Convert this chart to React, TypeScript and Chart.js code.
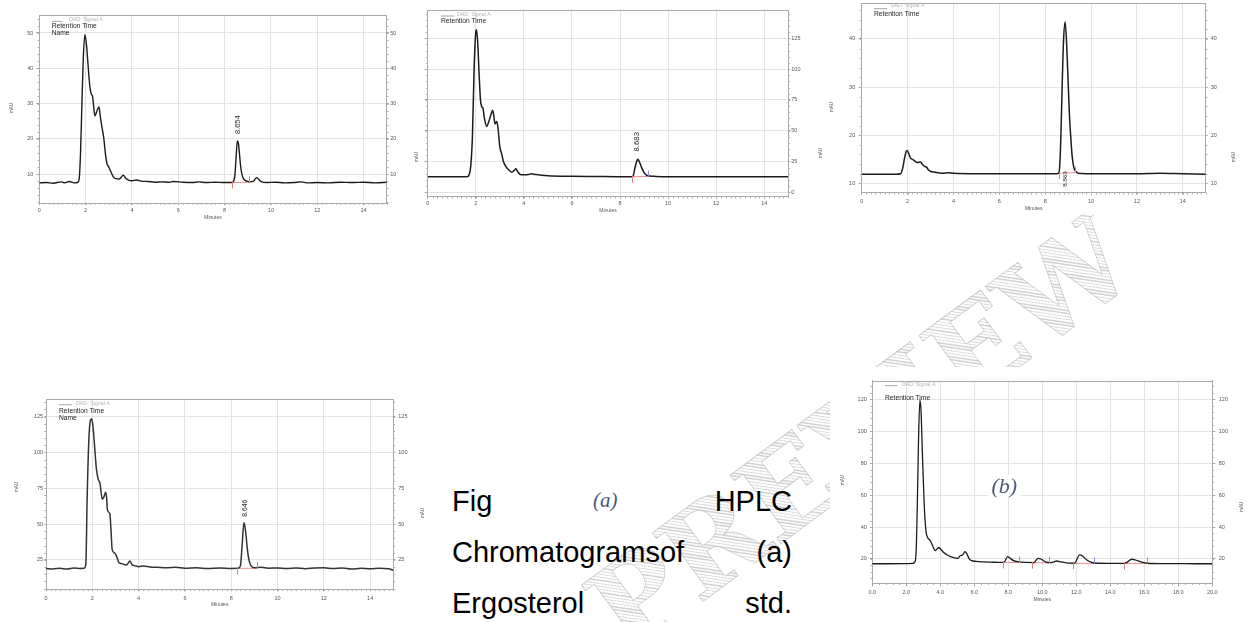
import React, { useEffect, useRef } from 'react';
import { Chart, registerables } from 'chart.js';

Chart.register(...registerables);

// ---------------- data ----------------
const X_TICKS_15 = [0, 2, 4, 6, 8, 10, 12, 14];
const X_TICKS_20 = [0, 2, 4, 6, 8, 10, 12, 14, 16, 18, 20];

// (a) top-left chromatogram
const A1_TIME = [0, 0.3, 0.6, 0.95, 1.1, 1.3, 1.5, 1.65, 1.72, 1.78,
  1.84, 1.9, 1.97, 2.04, 2.11, 2.18, 2.24, 2.3, 2.35, 2.4,
  2.47, 2.53, 2.58, 2.63, 2.7, 2.78, 2.86, 2.92, 3.0, 3.08,
  3.19, 3.3, 3.45, 3.55, 3.63, 3.72, 3.85, 4.0, 4.2, 4.4,
  4.7, 5.0, 5.3, 5.6, 5.8, 6.2, 6.6, 6.9, 7.2, 7.6,
  8.0, 8.3, 8.4, 8.45, 8.5, 8.55, 8.6, 8.65, 8.7, 8.78,
  8.85, 8.95, 9.1, 9.25, 9.33, 9.4, 9.5, 9.6, 9.8, 10.2,
  10.6, 11.0, 11.3, 11.6, 12.0, 12.5, 13.0, 13.5, 14.0, 14.5,
  15.0];
const A1_SIGNAL = [7.5, 7.6, 7.4, 7.8, 7.5, 7.9, 7.5, 7.6, 8.6, 16,
  30, 43, 49.5, 46.5, 40.5, 35, 32.8, 32, 29, 26.5,
  27.5, 28.6, 29, 26.5, 23.5, 20.4, 15.5, 13, 12, 10.8,
  9.3, 8.7, 8.6, 9.2, 9.7, 8.9, 8.3, 8.1, 8.3, 8.0,
  7.9, 7.7, 7.8, 7.7, 7.9, 7.7, 7.6, 7.8, 7.6, 7.7,
  7.6, 7.6, 8.1, 10, 15, 19.4, 18.6, 15.2, 11.8, 9.2,
  8.4, 8.0, 7.8, 8.0, 8.7, 9.0, 8.3, 7.8, 7.6, 7.7,
  7.5, 7.6, 7.8, 7.5, 7.6, 7.5, 7.7, 7.6, 7.7, 7.5,
  7.7];
const A1_Y_TICKS = [10, 20, 30, 40, 50];
const A1_INT_START = [8.33];
const A1_INT_END = [9.07];
const A1_INT_LEVEL_START = [7.6];
const A1_INT_LEVEL_END = [7.7];
const A1_PEAK_TIME = [8.56];
const A1_PEAK_LABEL_AT = [24];
const A1_PEAK_LABEL = ['8.654'];

// top-middle chromatogram
const A2_TIME = [0, 0.8, 1.5, 1.65, 1.72, 1.79, 1.86, 1.93, 2.0, 2.03,
  2.08, 2.14, 2.2, 2.25, 2.3, 2.36, 2.45, 2.55, 2.63, 2.7,
  2.75, 2.8, 2.87, 2.92, 3.0, 3.08, 3.15, 3.25, 3.35, 3.5,
  3.6, 3.67, 3.75, 3.85, 4.0, 4.2, 4.3, 4.5, 5.0, 6.0,
  7.0, 8.0, 8.5, 8.56, 8.63, 8.7, 8.74, 8.8, 8.9, 9.0,
  9.1, 9.25, 9.5, 10.0, 11.0, 12.0, 13.0, 14.0, 15.0];
const A2_SIGNAL = [12.5, 12.5, 12.5, 12.7, 14, 21, 45, 100, 130, 132,
  122, 95, 74, 69.5, 68, 60, 53.5, 58, 63, 66.5,
  62, 55.5, 57.5, 53, 37, 31, 25, 21, 18.5, 16.3,
  17.8, 19, 16.5, 14.5, 14.2, 14.5, 15, 14.4, 13.5, 13,
  12.8, 12.6, 12.6, 14, 20.5, 25.5, 26.8, 25, 20, 16,
  14, 13.2, 12.9, 12.6, 12.5, 12.5, 12.5, 12.5, 12.5];
const A2_Y_TICKS = [0, 25, 50, 75, 100, 125];
const A2_INT_START = [8.49];
const A2_INT_END = [9.18];
const A2_INT_LEVEL_START = [12.6];
const A2_INT_LEVEL_END = [12.8];
const A2_PEAK_TIME = [8.72];
const A2_PEAK_LABEL_AT = [41];
const A2_PEAK_LABEL = ['8.683'];

// top-right chromatogram
const A3_TIME = [0, 0.8, 1.5, 1.7, 1.78, 1.86, 1.93, 1.98, 2.05, 2.12,
  2.2, 2.3, 2.38, 2.45, 2.55, 2.65, 2.75, 2.82, 2.9, 3.0,
  3.2, 3.5, 3.8, 4.0, 5.0, 6.0, 7.0, 8.0, 8.5, 8.6,
  8.65, 8.69, 8.74, 8.8, 8.87, 8.94, 9.01, 9.06, 9.11, 9.18,
  9.25, 9.33, 9.45, 10.0, 11.0, 12.0, 13.0, 14.0, 15.0];
const A3_SIGNAL = [11.9, 11.9, 11.9, 12.0, 13, 15, 16.5, 16.8, 16.2, 15.3,
  15, 14.7, 14.4, 14.3, 14.5, 13.9, 13.5, 13.4, 12.8, 12.5,
  12.3, 12.1, 12.2, 12.1, 12.0, 12.0, 12.0, 12.0, 12.0, 12.2,
  15, 20.5, 30, 39.5, 43.5, 38.5, 30, 24, 20, 15.5,
  13.3, 12.5, 12.1, 12.0, 12.0, 12.0, 12.1, 12.0, 11.9];
const A3_Y_TICKS = [10, 20, 30, 40];
const A3_INT_START = [8.59];
const A3_INT_END = [9.31];
const A3_INT_LEVEL_START = [12.1];
const A3_INT_LEVEL_END = [12.2];
const A3_PEAK_TIME = [8.87];
const A3_PEAK_LABEL_AT = [10.9];
const A3_PEAK_LABEL = ['8.863'];

// bottom-left chromatogram
const A4_TIME = [0, 0.3, 0.6, 0.9, 1.2, 1.5, 1.65, 1.72, 1.78, 1.86,
  1.97, 2.03, 2.1, 2.18, 2.26, 2.33, 2.43, 2.5, 2.58, 2.62,
  2.65, 2.76, 2.81, 2.86, 2.98, 3.06, 3.15, 3.25, 3.34, 3.48,
  3.56, 3.63, 3.72, 3.82, 4.0, 4.2, 4.5, 4.8, 5.2, 5.6,
  6.0, 6.5, 7.0, 7.5, 8.0, 8.3, 8.4, 8.47, 8.55, 8.62,
  8.7, 8.78, 8.88, 9.0, 9.3, 9.6, 10.0, 10.4, 10.8, 11.2,
  11.6, 12.0, 12.4, 12.8, 13.2, 13.6, 14.0, 14.4, 14.8, 15.0];
const A4_SIGNAL = [19, 18.7, 19.2, 18.6, 19.3, 19, 19.2, 22, 70, 112,
  123.5, 118, 104, 88, 81, 78.5, 67.3, 69, 72.2, 68,
  60, 57, 45, 32, 29.6, 27, 23, 22.5, 22, 21.5,
  23, 24.3, 21.5, 21, 20.3, 20.8, 20, 19.8, 19.5, 19.8,
  19.2, 19.5, 19.0, 19.3, 19.0, 19.1, 21, 35, 51, 45,
  32, 24, 20.5, 19.5, 19.8, 19.2, 19.4, 19, 19.4, 18.9,
  19.3, 19.5, 19, 19.3, 18.6, 19.2, 18.8, 19.1, 18.8, 17.8];
const A4_Y_TICKS = [25, 50, 75, 100, 125];
const A4_INT_START = [8.26];
const A4_INT_END = [9.1];
const A4_INT_LEVEL_START = [19.1];
const A4_INT_LEVEL_END = [19.2];
const A4_PEAK_TIME = [8.6];
const A4_PEAK_LABEL_AT = [61];
const A4_PEAK_LABEL = ['8.646'];

// (b) bottom-right chromatogram
const B_TIME = [0, 1, 2, 2.4, 2.5, 2.58, 2.65, 2.72, 2.8, 2.87,
  2.95, 3.05, 3.15, 3.25, 3.4, 3.5, 3.6, 3.7, 3.82, 3.92,
  4.05, 4.2, 4.4, 4.6, 4.96, 5.06, 5.16, 5.3, 5.45, 5.55,
  5.7, 5.85, 6.1, 6.5, 7.0, 7.6, 7.8, 7.96, 8.1, 8.3,
  8.6, 9.0, 9.5, 9.65, 9.77, 9.95, 10.2, 10.5, 10.7, 10.85,
  11.1, 11.5, 11.9, 12.05, 12.18, 12.35, 12.6, 12.9, 13.3, 14.0,
  14.8, 15.0, 15.26, 15.45, 15.8, 16.2, 17.0, 18.0, 19.0, 20.0];
const B_SIGNAL = [17, 17, 17.1, 17.3, 18, 25, 55, 95, 119.5, 112,
  85, 55, 38, 33.5, 31.5, 29.5, 27, 25.2, 26.5, 27,
  25.8, 24, 22.5, 21.5, 20.4, 20.5, 22, 22.3, 24.5, 23.5,
  20, 18.9, 18.5, 18.2, 18, 17.8, 18.5, 21.4, 20.5, 19,
  18.2, 17.8, 17.7, 19.5, 20.4, 19.8, 18, 17.7, 18.2, 18.7,
  18.1, 17.4, 17.3, 20, 22.5, 22, 19.5, 17.9, 17.3, 17.2,
  17.2, 18, 19.8, 19.4, 18.2, 17.3, 17.1, 17.1, 17, 17];
const B_Y_TICKS = [20, 40, 60, 80, 100, 120];
const B_INT_START = [7.67, 9.41, 11.82, 14.81];
const B_INT_END = [8.65, 10.38, 13.06, 16.14];
const B_INT_LEVEL_START = [17.8, 17.6, 17.3, 17.2];
const B_INT_LEVEL_END = [17.7, 17.5, 17.2, 17.2];

// ---------------- styling / layout ----------------
const SANS = "'Liberation Sans', Arial, Helvetica, sans-serif";
const SERIF = "'Liberation Serif', 'Times New Roman', serif";
const GRID = '#e3e3e3';
const BORDER = '#a9a9a9';
const TICK_TXT = '#555555';

const SPECS: any[] = [
  {
    box: [0, 1, 412, 223], plot: [39.3, 15, 386.7, 203],
    xMax: 15, xTicks: X_TICKS_15, xFmt: (v: number) => String(v), xMinor: 0.2,
    yMin: 1.8, yMax: 55.1, yTicks: A1_Y_TICKS, yMinor: 2, leftLabels: true,
    tl: { left: [3, 3], right: [2, 1.5], x: [2, 2.4] },
    time: A1_TIME, signal: A1_SIGNAL, lineColor: '#1c1c1c', lineWidth: 1.4,
    intStart: A1_INT_START, intEnd: A1_INT_END, intLs: A1_INT_LEVEL_START, intLe: A1_INT_LEVEL_END,
    peakTime: A1_PEAK_TIME, peakAt: A1_PEAK_LABEL_AT, peakLabel: A1_PEAK_LABEL, peakSize: 7.5,
    legend: { sample: [52, 61.7, 21.3], dad: [69, 19.3], rt: [51.7, 25.7], name: [51.7, 33.3] },
    mau: [[12, 108]],
  },
  {
    box: [405, -4, 420, 221], plot: [427.7, 10, 788.3, 196.7],
    xMax: 15, xTicks: X_TICKS_15, xFmt: (v: number) => String(v), xMinor: 0.2,
    yMin: -3.6, yMax: 148, yTicks: A2_Y_TICKS, yMinor: 5, leftLabels: false,
    tl: { left: [3, 2], right: [2, 1], x: [2, 1] },
    time: A2_TIME, signal: A2_SIGNAL, lineColor: '#1c1c1c', lineWidth: 1.5,
    intStart: A2_INT_START, intEnd: A2_INT_END, intLs: A2_INT_LEVEL_START, intLe: A2_INT_LEVEL_END,
    peakTime: A2_PEAK_TIME, peakAt: A2_PEAK_LABEL_AT, peakLabel: A2_PEAK_LABEL, peakSize: 7.8,
    legend: { sample: [441, 454.3, 16], dad: [457, 15], rt: [441, 21] },
    mau: [[416.7, 157], [820.7, 153]],
  },
  {
    box: [825, -11, 422, 226], plot: [861.7, 3.3, 1205.7, 192.7],
    xMax: 15, xTicks: X_TICKS_15, xFmt: (v: number) => String(v), xMinor: 0.2,
    yMin: 8.05, yMax: 47.4, yTicks: A3_Y_TICKS, yMinor: 2, leftLabels: true,
    tl: { left: [3, 3.5], right: [2, 3], x: [2, 3] },
    time: A3_TIME, signal: A3_SIGNAL, lineColor: '#1c1c1c', lineWidth: 1.5,
    intStart: A3_INT_START, intEnd: A3_INT_END, intLs: A3_INT_LEVEL_START, intLe: A3_INT_LEVEL_END,
    peakTime: A3_PEAK_TIME, peakAt: A3_PEAK_LABEL_AT, peakLabel: A3_PEAK_LABEL, peakSize: 6.2,
    legend: { sample: [874, 887.3, 8.7], dad: [890.7, 6], rt: [874, 14] },
    mau: [[832, 107], [1234, 157]],
  },
  {
    box: [0, 385, 430, 226], plot: [46, 399.3, 393.3, 589.3],
    xMax: 15, xTicks: X_TICKS_15, xFmt: (v: number) => String(v), xMinor: 0.2,
    yMin: 4.5, yMax: 137, yTicks: A4_Y_TICKS, yMinor: 5, leftLabels: true,
    tl: { left: [1.5, 1.5], right: [2, 3], x: [2, 3.7] },
    time: A4_TIME, signal: A4_SIGNAL, lineColor: '#333333', lineWidth: 1.5,
    intStart: A4_INT_START, intEnd: A4_INT_END, intLs: A4_INT_LEVEL_START, intLe: A4_INT_LEVEL_END,
    peakTime: A4_PEAK_TIME, peakAt: A4_PEAK_LABEL_AT, peakLabel: A4_PEAK_LABEL, peakSize: 6.8,
    legend: { sample: [59, 71.7, 404.7], dad: [76, 403.7], rt: [59, 410.7], name: [59, 417.7] },
    mau: [[16.7, 487], [422.5, 513]],
  },
  {
    box: [830, 367, 417, 239], plot: [872.3, 380.7, 1212.3, 583.3],
    xMax: 20, xTicks: X_TICKS_20, xFmt: (v: number) => Number(v).toFixed(1), xMinor: 0.4,
    yMin: 4.75, yMax: 131.6, yTicks: B_Y_TICKS, yMinor: 4, leftLabels: true,
    tl: { left: [2.5, 3], right: [3, 3.5], x: [3, 3] },
    time: B_TIME, signal: B_SIGNAL, lineColor: '#1c1c1c', lineWidth: 1.3,
    intStart: B_INT_START, intEnd: B_INT_END, intLs: B_INT_LEVEL_START, intLe: B_INT_LEVEL_END,
    peakTime: [], peakAt: [], peakLabel: [], peakSize: 7,
    legend: { sample: [885, 897.3, 385.7], dad: [901.7, 384.7], rt: [885, 398] },
    mau: [[843, 480], [1241.7, 506.7]],
  },
];

function overlay(s: any) {
  const ox = s.box[0];
  const oy = s.box[1];
  return {
    id: 'chromOverlay',
    beforeDatasetsDraw(chart: any) {
      const ctx = chart.ctx;
      const lg = s.legend;
      ctx.save();
      ctx.strokeStyle = '#8c8c8c';
      ctx.lineWidth = 0.8;
      ctx.beginPath();
      ctx.moveTo(lg.sample[0] - ox, lg.sample[2] - oy);
      ctx.lineTo(lg.sample[1] - ox, lg.sample[2] - oy);
      ctx.stroke();
      ctx.textBaseline = 'middle';
      ctx.textAlign = 'left';
      ctx.fillStyle = '#b4b4b4';
      ctx.font = `5.3px ${SANS}`;
      ctx.fillText('DAD: Signal A', lg.dad[0] - ox, lg.dad[1] - oy);
      ctx.fillStyle = '#1e1e1e';
      ctx.font = `6.7px ${SANS}`;
      ctx.fillText('Retention Time', lg.rt[0] - ox, lg.rt[1] - oy);
      if (lg.name) ctx.fillText('Name', lg.name[0] - ox, lg.name[1] - oy);
      ctx.restore();
    },
    afterDatasetsDraw(chart: any) {
      const { ctx, scales } = chart;
      const xs = scales.x;
      const ys = scales.y;
      ctx.save();
      ctx.lineWidth = 1;
      for (let i = 0; i < s.intStart.length; i++) {
        const xr = Math.round(xs.getPixelForValue(s.intStart[i])) + 0.5;
        const yr = ys.getPixelForValue(s.intLs[i]);
        ctx.strokeStyle = '#e27f7f';
        ctx.beginPath();
        ctx.moveTo(xr, yr - 1);
        ctx.lineTo(xr, yr + 6);
        ctx.stroke();
        const xb = Math.round(xs.getPixelForValue(s.intEnd[i])) + 0.5;
        const yb = ys.getPixelForValue(s.intLe[i]);
        ctx.strokeStyle = '#8f8fdc';
        ctx.beginPath();
        ctx.moveTo(xb, yb);
        ctx.lineTo(xb, yb - 6);
        ctx.stroke();
      }
      ctx.fillStyle = '#2a2a2a';
      ctx.font = `${s.peakSize}px ${SANS}`;
      ctx.textAlign = 'center';
      ctx.textBaseline = 'middle';
      for (let i = 0; i < s.peakTime.length; i++) {
        const px = xs.getPixelForValue(s.peakTime[i]);
        const py = ys.getPixelForValue(s.peakAt[i]);
        ctx.save();
        ctx.translate(px, py);
        ctx.rotate(-Math.PI / 2);
        ctx.fillText(s.peakLabel[i], 0, 0);
        ctx.restore();
      }
      ctx.restore();
    },
    afterDraw(chart: any) {
      const { ctx, chartArea: a, scales } = chart;
      const xs = scales.x;
      const ys = scales.y;
      ctx.save();
      ctx.strokeStyle = BORDER;
      ctx.lineWidth = 1;
      const ty = Math.round(a.top) + 0.5;
      ctx.beginPath();
      ctx.moveTo(a.left, ty);
      ctx.lineTo(a.right, ty);
      ctx.stroke();
      // minor ticks
      ctx.strokeStyle = '#b0b0b0';
      ctx.beginPath();
      for (let v = s.xMinor; v < s.xMax; v += s.xMinor) {
        const px = Math.round(xs.getPixelForValue(v)) + 0.5;
        ctx.moveTo(px, a.bottom);
        ctx.lineTo(px, a.bottom + 1.8);
      }
      let v0 = s.yTicks[0];
      while (v0 - s.yMinor > s.yMin) v0 -= s.yMinor;
      for (let v = v0; v < s.yMax; v += s.yMinor) {
        const py = Math.round(ys.getPixelForValue(v)) + 0.5;
        ctx.moveTo(a.left - 1.8, py);
        ctx.lineTo(a.left, py);
        ctx.moveTo(a.right, py);
        ctx.lineTo(a.right + 1.8, py);
      }
      ctx.stroke();
      // axis titles (mAU)
      ctx.fillStyle = '#555555';
      ctx.font = `4.6px ${SANS}`;
      ctx.textAlign = 'center';
      ctx.textBaseline = 'middle';
      for (const m of s.mau) {
        ctx.save();
        ctx.translate(m[0] - ox, m[1] - oy);
        ctx.rotate(-Math.PI / 2);
        ctx.fillText('mAU', 0, 0);
        ctx.restore();
      }
      ctx.restore();
    },
  };
}

function buildConfig(s: any) {
  const [bl, bt, bw, bh] = s.box;
  const [L, T, R, B] = s.plot;
  const leftW = L - bl;
  const rightW = bl + bw - R;
  const padTop = T - bt;
  const xH = bt + bh - B;
  const tickFont = { family: SANS, size: 5.5 };
  const setTicks = (list: number[]) => (scale: any) => {
    scale.ticks = list.map((v) => ({ value: v }));
  };
  const signal = s.time.map((t: number, i: number) => ({ x: t, y: s.signal[i] }));
  const baseline: any[] = [];
  for (let i = 0; i < s.intStart.length; i++) {
    baseline.push({ x: s.intStart[i], y: s.intLs[i] });
    baseline.push({ x: s.intEnd[i], y: s.intLe[i] });
    baseline.push({ x: s.intEnd[i], y: null });
  }
  const yCommon = (side: 'left' | 'right') => ({
    type: 'linear',
    position: side,
    min: s.yMin,
    max: s.yMax,
    afterBuildTicks: setTicks(s.yTicks),
    afterFit: (sc: any) => { sc.width = side === 'left' ? leftW : rightW; },
    ticks: {
      autoSkip: false,
      font: tickFont,
      color: TICK_TXT,
      padding: side === 'left' ? s.tl.left[1] : s.tl.right[1],
      callback: side === 'left' && !s.leftLabels ? () => '' : (v: any) => String(v),
    },
    grid: {
      color: GRID,
      drawOnChartArea: side === 'left',
      tickLength: side === 'left' ? s.tl.left[0] : s.tl.right[0],
      tickColor: '#9a9a9a',
    },
    border: { display: true, color: BORDER, width: 1 },
  });
  return {
    type: 'line',
    data: {
      datasets: [
        {
          data: signal,
          borderColor: s.lineColor,
          borderWidth: s.lineWidth,
          pointRadius: 0,
          fill: false,
          cubicInterpolationMode: 'monotone',
          xAxisID: 'x',
          yAxisID: 'y',
        },
        {
          data: baseline,
          borderColor: '#ea8f8f',
          borderWidth: 1,
          pointRadius: 0,
          fill: false,
          tension: 0,
          spanGaps: false,
          xAxisID: 'x',
          yAxisID: 'y',
        },
      ],
    },
    options: {
      animation: false,
      responsive: false,
      maintainAspectRatio: false,
      devicePixelRatio: 1,
      events: [],
      layout: { padding: { top: padTop, left: 0, right: 0, bottom: 0 } },
      plugins: { legend: { display: false }, tooltip: { enabled: false }, title: { display: false } },
      scales: {
        x: {
          type: 'linear',
          position: 'bottom',
          min: 0,
          max: s.xMax,
          afterBuildTicks: setTicks(s.xTicks),
          afterFit: (sc: any) => { sc.height = xH; },
          ticks: {
            autoSkip: false,
            maxRotation: 0,
            font: tickFont,
            color: TICK_TXT,
            padding: s.tl.x[1],
            callback: (v: any) => s.xFmt(v),
          },
          grid: { color: GRID, tickLength: s.tl.x[0], tickColor: '#9a9a9a' },
          border: { display: true, color: BORDER, width: 1 },
          title: {
            display: true,
            text: 'Minutes',
            color: '#555555',
            font: { family: SANS, size: 5 },
            padding: { top: 0, bottom: 3 },
          },
        },
        y: yCommon('left'),
        y2: yCommon('right'),
      },
    },
    plugins: [overlay(s)],
  };
}

function Chromatogram({ spec }: { spec: any }) {
  const ref = useRef<HTMLCanvasElement | null>(null);
  useEffect(() => {
    if (!ref.current) return;
    const chart = new Chart(ref.current, buildConfig(spec) as any);
    return () => chart.destroy();
  }, [spec]);
  const [l, t, w, h] = spec.box;
  return (
    <canvas
      ref={ref}
      width={w}
      height={h}
      style={{ position: 'absolute', left: l, top: t, width: w, height: h, background: '#ffffff' }}
    />
  );
}

const capStyle: React.CSSProperties = {
  position: 'absolute',
  font: `29px ${SANS}`,
  lineHeight: '29px',
  color: '#000',
  whiteSpace: 'nowrap',
};

export default function App() {
  return (
    <div
      style={{
        position: 'fixed',
        left: 0,
        top: 0,
        width: 1247,
        height: 622,
        overflow: 'hidden',
        background: '#ffffff',
      }}
    >
      <div
        style={{
          position: 'absolute',
          left: 861,
          top: 434,
          transform: 'translate(-50%, -50%) rotate(-36.5deg)',
          font: `bold 117px 'DejaVu Serif', serif`,
          lineHeight: 1,
          whiteSpace: 'nowrap',
          color: 'transparent',
          backgroundImage:
            'repeating-linear-gradient(45deg, rgba(165,165,165,0.55) 0px, rgba(165,165,165,0.55) 1px, transparent 1px, transparent 3px)',
          WebkitBackgroundClip: 'text',
          backgroundClip: 'text',
          WebkitTextStroke: '0.7px rgba(190,190,190,0.8)',
          pointerEvents: 'none',
        }}
      >
        PREVIEW
      </div>

      {SPECS.map((s, i) => (
        <Chromatogram key={i} spec={s} />
      ))}

      <div style={{ ...capStyle, left: 452, top: 486.5 }}>Fig</div>
      <div
        style={{
          position: 'absolute',
          left: 593,
          top: 490,
          font: `italic 21px ${SERIF}`,
          lineHeight: '21px',
          color: '#4a5a78',
          whiteSpace: 'nowrap',
        }}
      >
        (a)
      </div>
      <div style={{ ...capStyle, right: 1247 - 792, top: 486.5 }}>HPLC</div>
      <div style={{ ...capStyle, left: 452, top: 537.5 }}>Chromatogramsof</div>
      <div style={{ ...capStyle, right: 1247 - 792, top: 537.5 }}>(a)</div>
      <div style={{ ...capStyle, left: 452, top: 588.5 }}>Ergosterol</div>
      <div style={{ ...capStyle, right: 1247 - 792, top: 588.5 }}>std.</div>

      <div
        style={{
          position: 'absolute',
          left: 987.5,
          top: 475,
          padding: '0 4px',
          background: '#ffffff',
          font: `italic 22px ${SERIF}`,
          lineHeight: '22px',
          color: '#4a5a78',
          whiteSpace: 'nowrap',
        }}
      >
        (b)
      </div>
    </div>
  );
}
